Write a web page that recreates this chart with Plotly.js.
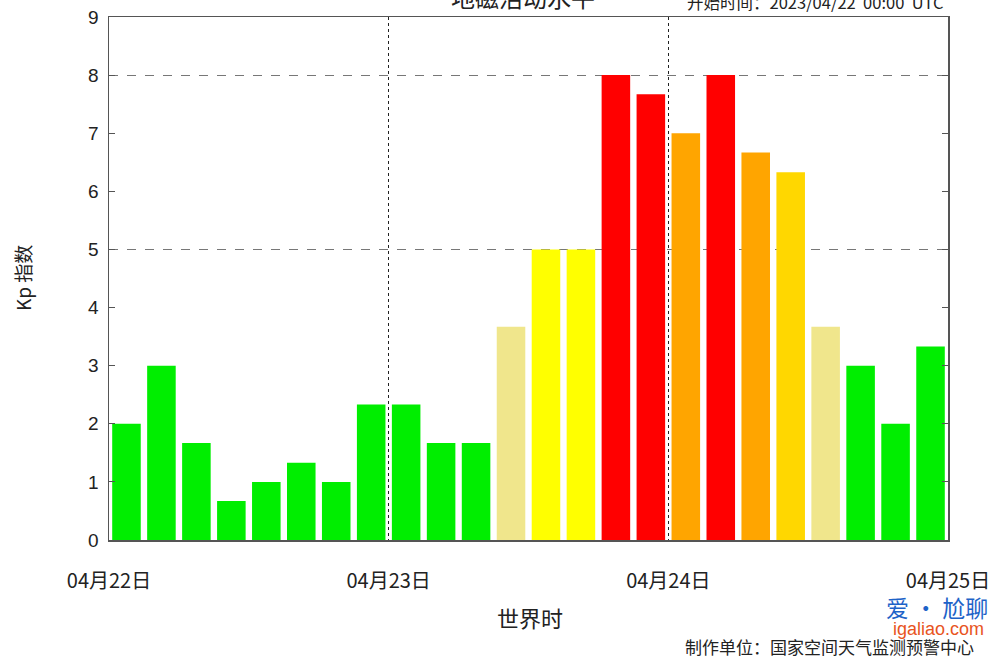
<!DOCTYPE html>
<html>
<head>
<meta charset="utf-8">
<script src="https://cdn.plot.ly/plotly-3.0.1.min.js"></script>
<style>html,body{margin:0;padding:0;background:#fff;}#chart{width:1000px;height:658px;}</style>
</head>
<body>
<div id="chart"></div>
<script>
// 3-hour Kp values, 2023-04-22 00:00 UTC onward
const hours = [1.5,4.5,7.5,10.5,13.5,16.5,19.5,22.5,25.5,28.5,31.5,34.5,37.5,40.5,43.5,46.5,49.5,52.5,55.5,58.5,61.5,64.5,67.5,70.5];
const kp = [2,3,1.67,0.67,1,1.33,1,2.33, 2.33,1.67,1.67,3.67,5,5,8,7.67, 7,8,6.67,6.33,3.67,3,2,3.33];
const dayTicks = [0,24,48,72];
const dayLabels = ['04月22日','04月23日','04月24日','04月25日'];
const yTicks = [0,1,2,3,4,5,6,7,8,9];
const stormLevels = [5,8];

const levelColors = {0:'#00ee00',1:'#00ee00',2:'#00ee00',3:'#00ee00',4:'#f0e68c',5:'#ffff00',6:'#ffd700',7:'#ffa500',8:'#ff0000',9:'#ff0000'};
const barColors = kp.map(v => levelColors[Math.round(v)]);

const FONT = 'Liberation Sans, Noto Sans CJK SC, sans-serif';
const CJK = 'Noto Sans CJK SC, Liberation Sans, sans-serif';

const data = [{
  type:'bar', x:hours, y:kp, width:2.45,
  marker:{color:barColors, line:{width:0}},
  hoverinfo:'skip', showlegend:false
},{
  type:'scatter', x:[0], y:[0], yaxis:'y2', mode:'markers',
  marker:{opacity:0}, hoverinfo:'skip', showlegend:false
}];

const X0 = 109, Y0 = 540, PW = 839, PH = 523;
const px = v => (v - X0)/PW;
const py = v => (Y0 - v)/PH;

const layout = {
  width:1000, height:658,
  margin:{l:109, r:52, t:17, b:118, pad:0},
  paper_bgcolor:'#fff', plot_bgcolor:'#fff',
  font:{family:FONT, color:'#222'},
  xaxis:{
    range:[0,72], tickvals:dayTicks, ticktext:dayLabels,
    ticks:'', showline:true, linecolor:'#555', linewidth:1.5, mirror:true,
    showgrid:true, gridcolor:'#222', griddash:'dot', gridwidth:1,
    zeroline:false, tickfont:{family:CJK, size:20, color:'#222'},
    ticklabelstandoff:22, fixedrange:true
  },
  yaxis:{
    range:[0,9], tickvals:yTicks, ticks:'inside', ticklen:6, tickcolor:'#555',
    showline:true, linecolor:'#555', linewidth:1.5, mirror:'ticks',
    showgrid:false, zeroline:false,
    tickfont:{family:FONT, size:19, color:'#222'}, ticklabelstandoff:5, fixedrange:true
  },
  yaxis2:{
    range:[0,9], overlaying:'y', tickvals:stormLevels, showticklabels:false,
    ticks:'', showline:false, showgrid:true, gridcolor:'#777', griddash:'dash', gridwidth:1,
    zeroline:false, fixedrange:true
  },
  annotations:[
    {text:'地磁活动水平', xref:'paper', yref:'paper', x:px(523), y:py(-3), xanchor:'center', yanchor:'middle', showarrow:false, font:{family:CJK, size:24, color:'#222'}},
    {text:'开始时间：2023/04/22  00:00  UTC', xref:'paper', yref:'paper', x:px(946), y:py(2), xanchor:'right', yanchor:'middle', showarrow:false, font:{family:CJK, size:16.5, color:'#222'}},
    {text:'Kp 指数', xref:'paper', yref:'paper', x:px(22), y:py(278), xanchor:'center', yanchor:'middle', textangle:-90, showarrow:false, font:{family:CJK, size:19, color:'#222'}},
    {text:'世界时', xref:'paper', yref:'paper', x:px(530), y:py(617), xanchor:'center', yanchor:'middle', showarrow:false, font:{family:CJK, size:22, color:'#222'}},
    {text:'制作单位：国家空间天气监测预警中心', xref:'paper', yref:'paper', x:px(976), y:py(646), xanchor:'right', yanchor:'middle', showarrow:false, font:{family:CJK, size:17, color:'#222'}},
    {text:'爱 · 尬聊', xref:'paper', yref:'paper', x:px(937), y:py(607), xanchor:'center', yanchor:'middle', showarrow:false, font:{family:CJK, size:23, color:'#1e63c8'}},
    {text:'igaliao.com', xref:'paper', yref:'paper', x:px(938), y:py(629), xanchor:'center', yanchor:'middle', showarrow:false, font:{family:FONT, size:18, color:'#e8541e'}}
  ]
};

Plotly.newPlot('chart', data, layout, {displayModeBar:false, staticPlot:true});
</script>
</body>
</html>
